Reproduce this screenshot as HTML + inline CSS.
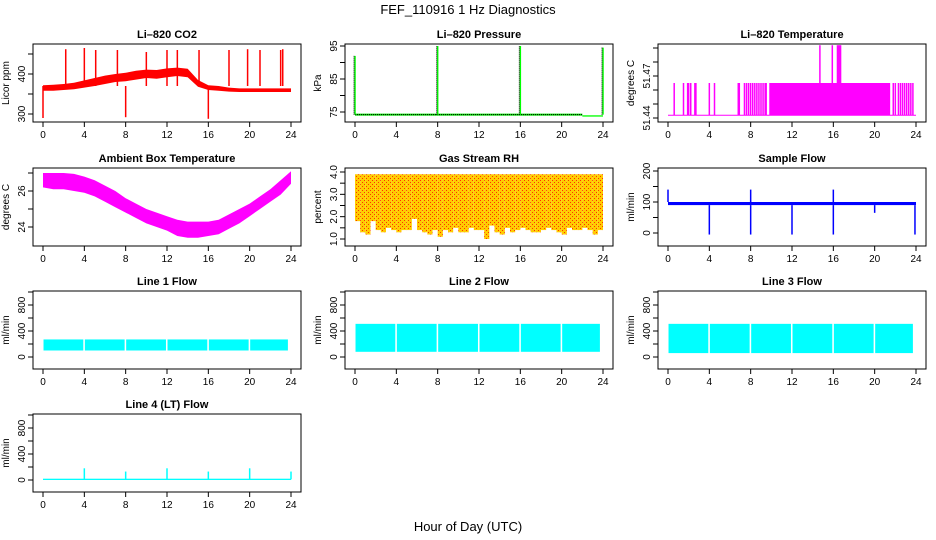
<!DOCTYPE html>
<html><head><meta charset="utf-8"><style>
html,body{margin:0;padding:0;background:#fff}
svg{display:block;font-family:"Liberation Sans",sans-serif}
</style></head><body>
<svg id="c" width="936" height="540" viewBox="0 0 936 540">
<defs>
<pattern id="rhpat" width="4" height="4" patternUnits="userSpaceOnUse">
<rect width="4" height="4" fill="#ffcc00"/><rect x="0" y="0" width="1" height="1" fill="#ff3300"/><rect x="2" y="2" width="1" height="1" fill="#ff3300"/>
</pattern>
</defs>
<text x="468" y="14" text-anchor="middle" font-size="13">FEF_110916  1 Hz Diagnostics</text>
<text x="468" y="531" text-anchor="middle" font-size="13">Hour of Day (UTC)</text>
</svg>
<script>
const xTicks=[0,4,8,12,16,20,24];
// CO2
const co2Hours=[0,1,2,3,4,5,6,7,8,9,10,11,12,13,14,15,16,17,18,19,20,21,22,23,24];
const co2Upper=[372,373,375,378,384,390,396,400,403,408,411,410,414,416,413,385,372,370,366,364,364,364,364,364,364];
const co2Lower=[358,358,360,362,366,370,375,380,382,386,390,388,392,395,392,368,360,358,356,355,355,355,355,355,355];
const co2SpikeT=[2.2,4,5.1,7.2,10,12,13,15.1,18,19.8,21,23,23.2];
const co2SpikeV=[462,465,460,460,455,460,460,460,460,462,460,460,462];
const co2DipT=[0,8,16];
const co2DipV=[290,292,288];
// Pressure
const presBase=74.2;
const presSpikeT=[0,8,16,24];
const presSpikeV=[92,95,95,94.5];
// Li-820 temperature
const tempBase=51.442, tempHigh=51.465;
const tempSpikeT=[0.6,1.5,1.9,2.0,2.2,2.6,2.7,4.0,4.5,6.8,6.9,7.4,7.6,7.8,8.0,8.2,8.4,8.6,8.8,9.0,9.2,9.4,9.5];
const tempDense=[9.8,21.5];
const tempTopT=[14.7,15.9,16.4,16.5,16.6,16.7];
const tempTopV=[51.492,51.492,51.492,51.492,51.492,51.492];
const tempTailT=[21.8,22.0,22.3,22.5,22.7,22.9,23.1,23.3,23.5,23.7];
// Ambient
const ambHours=[0,1,2,3,4,5,6,7,8,9,10,11,12,13,14,15,16,17,18,19,20,21,22,23,24];
const ambUpper=[27,27,27,26.95,26.8,26.6,26.3,26,25.6,25.3,25,24.8,24.6,24.4,24.3,24.3,24.3,24.4,24.7,25,25.3,25.7,26.1,26.6,27.1];
const ambLower=[26.2,26.1,26.1,26.0,25.9,25.7,25.4,25.1,24.8,24.5,24.2,24.0,23.8,23.5,23.4,23.4,23.5,23.6,23.9,24.2,24.6,25.0,25.4,25.8,26.4];
// RH
const rhUpper=3.9;
const rhLower=[1.8,1.3,1.2,1.8,1.4,1.3,1.5,1.4,1.3,1.4,1.4,1.9,1.4,1.3,1.2,1.4,1.1,1.4,1.3,1.5,1.3,1.3,1.5,1.4,1.4,1.0,1.6,1.3,1.2,1.5,1.3,1.4,1.5,1.4,1.3,1.3,1.4,1.5,1.4,1.3,1.2,1.5,1.4,1.4,1.5,1.4,1.2,1.4,1.7];
// Sample flow
const sfUpper=100, sfLower=90;
const sfDipT=[4,8,12,16,20,23.9];
const sfDipV=[-5,-5,-5,-5,65,-5];
const sfSpikeT=[0,8,16];
const sfSpikeV=[140,140,140];
// Line flows
const l1Band=[100,270];
const l2Band=[80,510];
const l3Band=[60,510];
const flowGapT=[4,8,12,16,20];
const l4Base=10;
const l4SpikeT=[4,8,12,16,20,24];
const l4SpikeV=[180,130,180,130,180,130];

const svg=document.getElementById('c');
const NS='http://www.w3.org/2000/svg';
function mk(tag,attrs,parent){const e=document.createElementNS(NS,tag);for(const k in attrs)e.setAttribute(k,attrs[k]);(parent||svg).appendChild(e);return e;}
const colL=[33,345,658], rowT=[44,168,291,414], W=268, H=78;

function panel(name,col,row,title,ylab,yTicks,yLabels,v0,p0,v1,p1){
  const L=colL[col],T=rowT[row];
  const g=mk('g',{});
  
  
  const x=v=>L+10+v*(W-20)/24;
  const y=v=>p0+(v-v0)*(p1-p0)/(v1-v0);
  const t=mk('text',{x:L+W/2,y:T-6,'text-anchor':'middle','font-size':11,'font-weight':'bold'},g);t.textContent=title;
  
  
  const yl=mk('text',{transform:`translate(${L-24},${T+H/2}) rotate(-90)`,'text-anchor':'middle','font-size':10},g);yl.textContent=ylab;
  
  
  const data=mk('g',{},g);
  
  
  const box=mk('rect',{x:L,y:T,width:W,height:H,fill:'none',stroke:'#000','stroke-width':1},g);
  
  
  const xa=mk('g',{},g);
  
  
  mk('line',{x1:x(0),x2:x(24),y1:T+H,y2:T+H,stroke:'#000'},xa);
  xTicks.forEach(v=>{mk('line',{x1:x(v),x2:x(v),y1:T+H,y2:T+H+5,stroke:'#000'},xa);
    const tl=mk('text',{x:x(v),y:T+H+16,'text-anchor':'middle','font-size':10},xa);tl.textContent=v;});
  const ya=mk('g',{},g);
  
  
  mk('line',{x1:L,x2:L,y1:y(yTicks[0]),y2:y(yTicks[yTicks.length-1]),stroke:'#000'},ya);
  yTicks.forEach((v,i)=>{mk('line',{x1:L-5,x2:L,y1:y(v),y2:y(v),stroke:'#000'},ya);
    if(yLabels[i]!==''){const tl=mk('text',{transform:`translate(${L-8},${y(v)}) rotate(-90)`,'text-anchor':'middle','font-size':10},ya);tl.textContent=yLabels[i];}});
  return {x,y,g:data};
}
function band(p,ts,up,lo,fill){let pts=ts.map((t,i)=>p.x(t)+','+p.y(up[i]));for(let i=ts.length-1;i>=0;i--)pts.push(p.x(ts[i])+','+p.y(lo[i]));return mk('polygon',{points:pts.join(' '),fill:fill},p.g);}
function vl(p,t,a,b,c,w){return mk('line',{x1:p.x(t),x2:p.x(t),y1:p.y(a),y2:p.y(b),stroke:c,'stroke-width':w||1},p.g);}
function rect(p,t0,t1,a,b,fill){return mk('rect',{x:p.x(t0),y:p.y(b),width:p.x(t1)-p.x(t0),height:p.y(a)-p.y(b),fill:fill},p.g);}

// CO2
let p=panel('co2',0,0,'Li–820 CO2','Licor ppm',[300,350,400,450],['300','','400',''],300,114,400,74);
band(p,co2Hours,co2Upper,co2Lower,'#ff0000');
co2SpikeT.forEach((t,i)=>vl(p,t,370,co2SpikeV[i],'#ff0000',1.5));
co2DipT.forEach((t,i)=>vl(p,t,370,co2DipV[i],'#ff0000',1.5));
// Pressure
p=panel('pressure',1,0,'Li–820 Pressure','kPa',[75,80,85,90,95],['75','','85','','95'],75,112,95,46);
rect(p,0,22,presBase-0.3,presBase+0.3,'#00dd00');
rect(p,22,24,presBase-0.6,presBase-0.2,'#00ff00');
mk('line',{x1:p.x(0),x2:p.x(22),y1:p.y(presBase),y2:p.y(presBase),stroke:'#000','stroke-dasharray':'1,1'},p.g);
presSpikeT.forEach((t,i)=>{vl(p,t,presBase,presSpikeV[i],'#00ff00',1.5);mk('line',{x1:p.x(t)-1,x2:p.x(t)-1,y1:p.y(presBase),y2:p.y(presSpikeV[i]),stroke:'#000','stroke-dasharray':'1,1'},p.g);});
// Temperature
p=panel('li820-temp',2,0,'Li–820 Temperature','degrees C',[51.44,51.45,51.46,51.47,51.48,51.49],['51.44','','','51.47','',''],51.44,118,51.47,76);
mk('line',{x1:p.x(0),x2:p.x(24),y1:p.y(tempBase),y2:p.y(tempBase),stroke:'#ff00ff'},p.g);
tempSpikeT.concat(tempTailT).forEach(t=>vl(p,t,tempBase,tempHigh,'#ff00ff',1.5));
rect(p,tempDense[0],tempDense[1],tempBase,tempHigh,'#ff00ff');
tempTopT.forEach((t,i)=>vl(p,t,tempBase,tempTopV[i],'#ff00ff',1.5));
// Ambient
p=panel('ambient-temp',0,1,'Ambient Box Temperature','degrees C',[24,25,26,27],['24','','26',''],24,227,26,191);
band(p,ambHours,ambUpper,ambLower,'#ff00ff');
// RH
p=panel('gas-rh',1,1,'Gas Stream RH','percent',[1,1.5,2,2.5,3,3.5,4],['1.0','','2.0','','3.0','','4.0'],1,239,4,172);
rhLower.forEach((v,i)=>{const t0=i*0.5,t1=Math.min(24,t0+0.5);rect(p,t0,t1,v,rhUpper,'url(#rhpat)');});
// Sample flow
p=panel('sample-flow',2,1,'Sample Flow','ml/min',[0,50,100,150,200],['0','','100','','200'],0,233,100,202);
rect(p,0,24,sfLower,sfUpper,'#0000ff');
sfDipT.forEach((t,i)=>vl(p,t,sfLower,sfDipV[i],'#0000ff',1.5));
sfSpikeT.forEach((t,i)=>vl(p,t,sfUpper,sfSpikeV[i],'#0000ff',1.5));
// Line flows
const fT=[0,200,400,600,800,1000], fL=['0','','400','','800',''];
function flow(name,col,row,title,bnd,gaps){
  const q=panel(name,col,row,title,'ml/min',fT,fL,0,rowT[row]+66,400,rowT[row]+40);
  const edges=[0].concat(gaps,[23.8]);
  for(let i=0;i<edges.length-1;i++)rect(q,edges[i]+0.05,edges[i+1]-0.1,bnd[0],bnd[1],'#00ffff');
  return q;
}
flow('line1-flow',0,2,'Line 1 Flow',l1Band,flowGapT);
flow('line2-flow',1,2,'Line 2 Flow',l2Band,flowGapT);
flow('line3-flow',2,2,'Line 3 Flow',l3Band,flowGapT);
p=panel('line4-flow',0,3,'Line 4 (LT) Flow','ml/min',fT,fL,0,rowT[3]+66,400,rowT[3]+40);
rect(p,0,24,0,l4Base*2,'#00ffff');
l4SpikeT.forEach((t,i)=>vl(p,t,l4Base,l4SpikeV[i],'#00ffff',1.5));
</script>
</body></html>
